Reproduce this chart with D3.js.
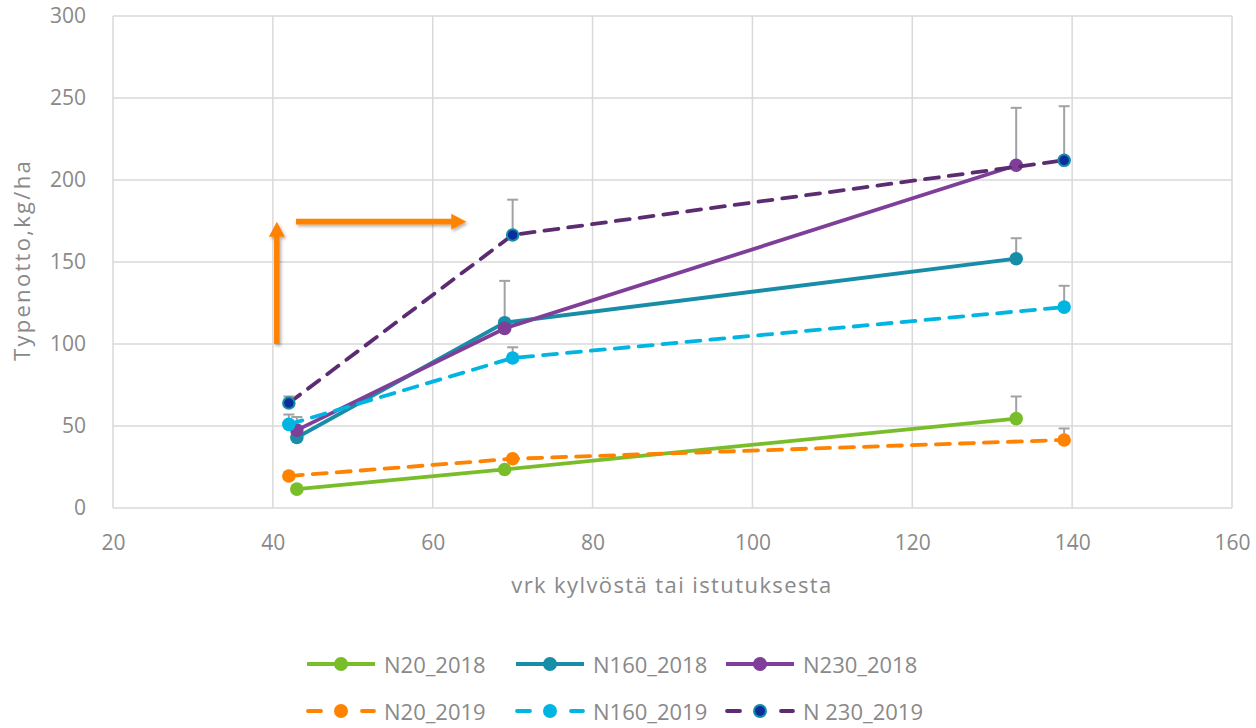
<!DOCTYPE html>
<html>
<head>
<meta charset="utf-8">
<script src="https://cdn.jsdelivr.net/npm/d3@7"></script>
<style>
	body { margin: 0; background: #fff; }
	text { font-family: "Open Sans", "Noto Sans", sans-serif; fill: #898989; }
</style>
</head>
<body>
<svg id="chart" width="1256" height="728"></svg>
<script>

// Data

var days2018 = [43, 69, 133];
var days2019 = [42, 70, 139];

var n20_2018 = [11.5, 23.5, 54.5];
var n160_2018 = [43, 113, 152];
var n230_2018 = [47.5, 109.5, 209];
var n20_2019 = [19.5, 30, 41.5];
var n160_2019 = [51, 91.5, 122.5];
var n230_2019 = [64, 166.5, 212];

// plus-only error bars
var n20_2018Err = [0, 1, 13.5];
var n160_2018Err = [5, 25.5, 12.5];
var n230_2018Err = [8, 1, 35];
var n20_2019Err = [0.5, 1, 7];
var n160_2019Err = [6, 6.5, 13];
var n230_2019Err = [4, 21.5, 33];

var seriesNames = ["N20_2018", "N160_2018", "N230_2018", "N20_2019", "N160_2019", "N 230_2019"];

var xTicks = [20, 40, 60, 80, 100, 120, 140, 160];
var yTicks = [0, 50, 100, 150, 200, 250, 300];

// annotation arrows (data units)
var arrowUp = {x: 40.5, y0: 100, y1: 174.6};
var arrowRight = {x0: 42.9, x1: 64.2, y: 174.6};

var series = [
	{name: seriesNames[0], days: days2018, values: n20_2018, err: n20_2018Err, color: "#7abd2a", dash: null, fill: "#7abd2a"},
	{name: seriesNames[1], days: days2018, values: n160_2018, err: n160_2018Err, color: "#178da8", dash: null, fill: "#178da8"},
	{name: seriesNames[2], days: days2018, values: n230_2018, err: n230_2018Err, color: "#7f3f98", dash: null, fill: "#7f3f98"},
	{name: seriesNames[3], days: days2019, values: n20_2019, err: n20_2019Err, color: "#ff8200", dash: "14,10", fill: "#ff8200"},
	{name: seriesNames[4], days: days2019, values: n160_2019, err: n160_2019Err, color: "#00b5e2", dash: "14,10", fill: "#00b5e2"},
	{name: seriesNames[5], days: days2019, values: n230_2019, err: n230_2019Err, color: "#5c2c72", dash: "14,10", fill: "#0a2f9c", stroke: "#178da8"}
];

var svg = d3.select("#chart");

var x = d3.scaleLinear().domain([20, 160]).range([113, 1232]);
var y = d3.scaleLinear().domain([0, 300]).range([508, 16]);

// Grid

svg.append("g")
.selectAll("line")
.data(yTicks)
.enter().append("line")
.attr("x1", x(20)).attr("x2", x(160))
.attr("y1", function (d) { return y(d); })
.attr("y2", function (d) { return y(d); })
.style("stroke", "#d9d9d9")
.style("stroke-width", 1.5);

svg.append("g")
.selectAll("line")
.data(xTicks)
.enter().append("line")
.attr("y1", y(0)).attr("y2", y(300))
.attr("x1", function (d) { return x(d); })
.attr("x2", function (d) { return x(d); })
.style("stroke", "#d9d9d9")
.style("stroke-width", 1.5);

// Axes (labels only, lines come from the grid)

var xAxis = svg.append("g")
.attr("transform", "translate(0," + y(0) + ")")
.call(d3.axisBottom(x).tickValues(xTicks).tickSize(0).tickPadding(27));

var yAxis = svg.append("g")
.attr("transform", "translate(" + (x(20) - 27) + ",0)")
.call(d3.axisLeft(y).tickValues(yTicks).tickSize(0).tickPadding(0));

[xAxis, yAxis].forEach(function (a) {
	a.select(".domain").remove();
	a.selectAll("text")
	.style("font-family", "\"Open Sans\", \"Noto Sans\", sans-serif")
	.style("font-size", "21px")
	.attr("fill", "#898989");
});

svg.append("text")
.attr("x", 672)
.attr("y", 593)
.style("font-size", "22px")
.style("letter-spacing", "1.4px")
.style("text-anchor", "middle")
.text("vrk kylvöstä tai istutuksesta");

svg.append("text")
.attr("transform", "translate(30,260) rotate(-90)")
.style("font-size", "22px")
.style("letter-spacing", "2.3px")
.style("text-anchor", "middle")
.text("Typenotto,kg/ha");

// Arrows

var defs = svg.append("defs");

var shadow = defs.append("filter").attr("id", "shadow").attr("x", "-50%").attr("y", "-50%").attr("width", "200%").attr("height", "200%");
shadow.append("feDropShadow").attr("dx", 1.5).attr("dy", 2).attr("stdDeviation", 1.5).attr("flood-color", "#000").attr("flood-opacity", 0.3);

var arrows = svg.append("g").attr("filter", "url(#shadow)");

var ux = x(arrowUp.x), uy0 = y(arrowUp.y0), uy1 = y(arrowUp.y1);
arrows.append("path")
.attr("d", "M" + (ux - 2.8) + "," + uy0 + "L" + (ux - 2.8) + "," + (uy1 + 15) + "L" + (ux - 8) + "," + (uy1 + 15) +
	"L" + ux + "," + uy1 + "L" + (ux + 8) + "," + (uy1 + 15) + "L" + (ux + 2.8) + "," + (uy1 + 15) + "L" + (ux + 2.8) + "," + uy0 + "Z")
.style("fill", "#ff8200");

var rx0 = x(arrowRight.x0), rx1 = x(arrowRight.x1), ry = y(arrowRight.y);
arrows.append("path")
.attr("d", "M" + rx0 + "," + (ry - 2.8) + "L" + (rx1 - 15) + "," + (ry - 2.8) + "L" + (rx1 - 15) + "," + (ry - 8) +
	"L" + rx1 + "," + ry + "L" + (rx1 - 15) + "," + (ry + 8) + "L" + (rx1 - 15) + "," + (ry + 2.8) + "L" + rx0 + "," + (ry + 2.8) + "Z")
.style("fill", "#ff8200");

// Series

var line = d3.line()
.x(function (d) { return x(d.day); })
.y(function (d) { return y(d.value); });

series.forEach(function (s) {

	var points = s.days.map(function (d, i) {
		return {day: d, value: s.values[i], err: s.err[i]};
	});

	var g = svg.append("g");

	g.append("path")
	.datum(points)
	.attr("d", line)
	.style("fill", "none")
	.style("stroke", s.color)
	.style("stroke-width", 3.8)
	.style("stroke-linecap", s.dash ? "round" : "butt")
	.style("stroke-dasharray", s.dash);

	var bars = g.selectAll(".err")
	.data(points.filter(function (p) { return p.err > 0; }))
	.enter().append("g")
	.attr("class", "err");

	bars.append("line")
	.attr("x1", function (d) { return x(d.day); })
	.attr("x2", function (d) { return x(d.day); })
	.attr("y1", function (d) { return y(d.value); })
	.attr("y2", function (d) { return y(d.value + d.err); })
	.style("stroke", "#a0a3a6")
	.style("stroke-width", 2);

	bars.append("line")
	.attr("x1", function (d) { return x(d.day) - 5.5; })
	.attr("x2", function (d) { return x(d.day) + 5.5; })
	.attr("y1", function (d) { return y(d.value + d.err); })
	.attr("y2", function (d) { return y(d.value + d.err); })
	.style("stroke", "#a0a3a6")
	.style("stroke-width", 2);

	g.selectAll("circle")
	.data(points)
	.enter().append("circle")
	.attr("cx", function (d) { return x(d.day); })
	.attr("cy", function (d) { return y(d.value); })
	.attr("r", s.stroke ? 5.8 : 6.8)
	.style("fill", s.fill)
	.style("stroke", s.stroke || "none")
	.style("stroke-width", s.stroke ? 2 : 0);
});

// Legend

var legendX = [307, 516, 726];
var legendY = [664, 711];

series.forEach(function (s, i) {

	var lx = legendX[i % 3];
	var ly = legendY[Math.floor(i / 3)];

	var item = svg.append("g").attr("transform", "translate(" + lx + "," + ly + ")");

	if (s.dash) {
		[[1, 14], [55, 67]].forEach(function (seg) {
			item.append("line")
			.attr("x1", seg[0]).attr("x2", seg[1])
			.attr("y1", 0).attr("y2", 0)
			.style("stroke", s.color)
			.style("stroke-width", 3.8)
			.style("stroke-linecap", "round");
		});
	} else {
		item.append("line")
		.attr("x1", 0).attr("x2", 68)
		.attr("y1", 0).attr("y2", 0)
		.style("stroke", s.color)
		.style("stroke-width", 3.8);
	}

	item.append("circle")
	.attr("cx", 34)
	.attr("cy", 0)
	.attr("r", s.stroke ? 6 : 7)
	.style("fill", s.fill)
	.style("stroke", s.stroke || "none")
	.style("stroke-width", s.stroke ? 2 : 0);

	item.append("text")
	.attr("x", 77)
	.attr("y", 8.5)
	.style("font-size", "22px")
	.text(s.name);
});

</script>
</body>
</html>
